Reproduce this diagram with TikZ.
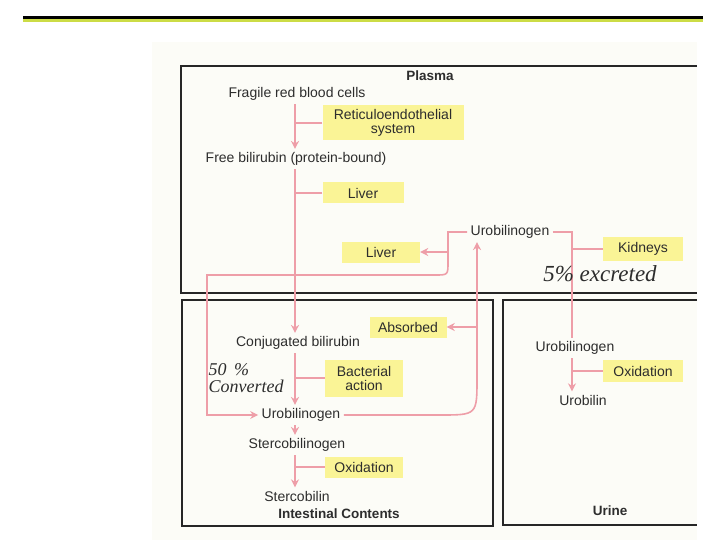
\documentclass[tikz,border=0pt]{standalone}
\usepackage{fontspec}
\setmainfont{Liberation Sans}
\newfontfamily\handfont{Liberation Serif}
\usetikzlibrary{arrows.meta}

\definecolor{flowpink}{RGB}{238,158,168}
\definecolor{tagyellow}{RGB}{250,244,150}
\definecolor{inkgray}{RGB}{45,45,45}
\definecolor{pagecream}{RGB}{252,252,247}
\definecolor{rulegreen}{RGB}{204,220,70}

\begin{document}
\begin{tikzpicture}[x=1pt, y=-1pt,
            every node/.style = {text=inkgray, font=\fontsize{14}{16}\selectfont},
            tag/.style = {fill=tagyellow, inner sep=0pt, align=center},
            title/.style = {font=\fontsize{13.5}{16}\selectfont\bfseries},
            hand/.style = {font=\fontsize{18}{17}\selectfont\handfont\itshape, align=left, inner sep=1pt},
            flow/.style = {draw=flowpink, line width=1.6pt, -{Stealth[length=8pt, width=8pt]}},
            tie/.style = {draw=flowpink, line width=1.6pt},
            region/.style = {draw=black!85, line width=1.2pt}]
            \useasboundingbox (0,0) rectangle (720,540);
            \fill[pagecream] (152,42) rectangle (697,540);
            % top rule
            \draw[black, line width=3.5pt] (23,17.5) -- (703,17.5);
            \draw[rulegreen, line width=2.5pt] (23,20.5) -- (703,20.5);

            % regions
            \draw[region] (697,66) -- (181,66) -- (181,293) -- (697,293);
            \draw[region] (182,300) rectangle (493,526);
            \draw[region] (697,300) -- (503,300) -- (503,525) -- (697,525);
            \node[title] (plasma) at (430,76) {Plasma};
            \node[title] (intestine) at (339,514) {Intestinal Contents};
            \node[title] (urine) at (610,511) {Urine};

            % main column
            \coordinate (col) at (295,0);
            \node (rbc) at (297,94) {Fragile red blood cells};
            \node[tag, minimum width=141pt, minimum height=35pt] (reti) at (393,123)
                {Reticuloendothelial\\[-2pt]system};
            \node (freebil) at (296,159) {Free bilirubin (protein-bound)};
            \node[tag, minimum width=81pt, minimum height=21pt] (liverA) at (363,193) {Liver};
            \node (conj) at (298,343) {Conjugated bilirubin};
            \node[tag, minimum width=78pt, minimum height=37pt] (bact) at (364,378)
                {Bacterial\\[-2pt]action};
            \node (uroI) at (301,415) {Urobilinogen};
            \node (sterco) at (297,445) {Stercobilinogen};
            \node[tag, minimum width=78pt, minimum height=21pt] (oxI) at (364,467) {Oxidation};
            \node (stercobilin) at (297,496) {Stercobilin};

            \draw[flow] (rbc.south -| col) -- (freebil.north -| col);
            \draw[tie] (reti.west) -- (reti.west -| col);
            \draw[flow] (freebil.south -| col) -- (conj.north -| col);
            \draw[tie] (liverA.west) -- (liverA.west -| col);
            \draw[flow] (conj.south -| col) -- (uroI.north -| col);
            \draw[tie] (bact.west) -- (bact.west -| col);
            \draw[flow] (uroI.south -| col) -- (sterco.north -| col);
            \draw[flow] (sterco.south -| col) -- (stercobilin.north -| col);
            \draw[tie] (oxI.west) -- (oxI.west -| col);

            % plasma urobilinogen
            \node (uroP) at (510,232) {Urobilinogen};
            \node[tag, minimum width=78pt, minimum height=21pt] (liverB) at (381,252) {Liver};
            \node[tag, minimum width=80pt, minimum height=24pt] (kidneys) at (643,249) {Kidneys};
            \node[tag, minimum width=77pt, minimum height=21pt] (absorbed) at (408,327) {Absorbed};

            % back to the gut
            \coordinate (lcol) at (448,0);
            \draw[flow] (uroP.west) -- (uroP.west -| lcol) -- (448,262)
                .. controls (448,275) .. (435,275) -- (207,275) -- (207,415) -- (uroI.west);
            \draw[flow] (liverB.east -| lcol) -- (liverB.east);
            \node[hand] (converted) at (246,378) {50 \,\%\\Converted};

            % absorbed from the gut
            \coordinate (acol) at (477,0);
            \draw[flow] (uroI.east) -- (440,415)
                .. controls (477,415) .. (477,378) -- (uroP.south -| acol);
            \draw[flow] (absorbed.east -| acol) -- (absorbed.east);

            % kidneys
            \coordinate (kcol) at (572,0);
            \node (uroU) at (575,348) {Urobilinogen};
            \node[tag, minimum width=80pt, minimum height=22pt] (oxU) at (643,371) {Oxidation};
            \node (urobilin) at (583,400) {Urobilin};
            \draw[tie] (uroP.east) -- (uroP.east -| kcol) -- (uroU.north -| kcol);
            \draw[tie] (kidneys.west) -- (kidneys.west -| kcol);
            \draw[flow] (uroU.south -| kcol) -- (urobilin.north -| kcol);
            \draw[tie] (oxU.west) -- (oxU.west -| kcol);
            \node[hand, font=\fontsize{23}{23}\selectfont\handfont\itshape] (excreted) at (600,274)
                {5\% excreted};
        \end{tikzpicture}
\end{document}
